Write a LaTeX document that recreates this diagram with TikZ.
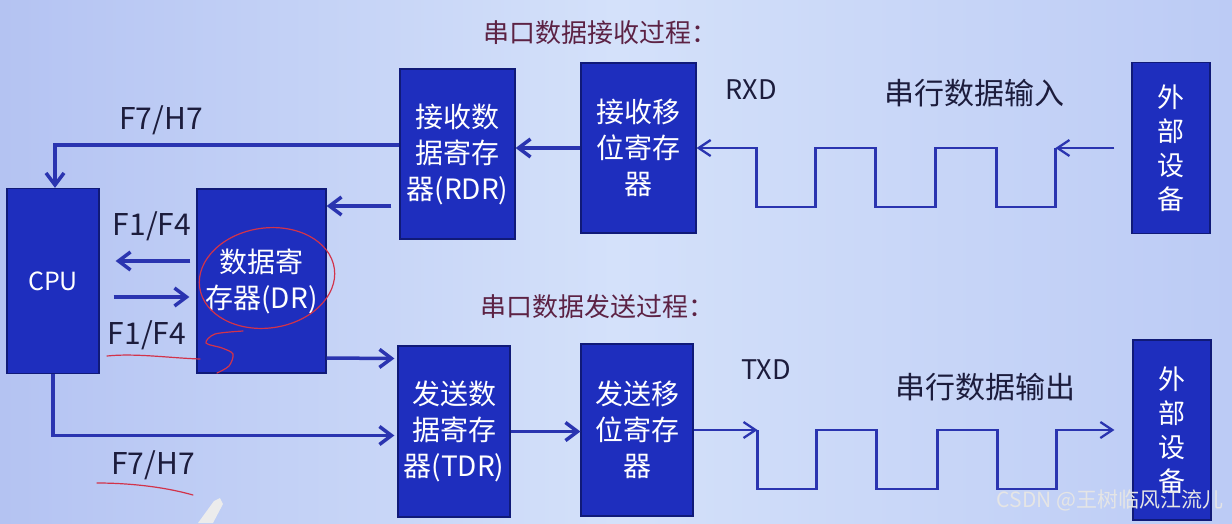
\documentclass[tikz,border=0pt]{standalone}
\usepackage{fontspec}
\setmainfont{Noto Sans CJK SC}
\usetikzlibrary{arrows.meta}
\definecolor{regfill}{HTML}{1E2EBE}
\definecolor{regedge}{HTML}{101A78}
\definecolor{arblue}{HTML}{2A34B0}
\definecolor{lblink}{HTML}{1C1C3C}
\definecolor{ttlink}{HTML}{5C2244}
\definecolor{inkred}{HTML}{D2334A}
\definecolor{bgl}{HTML}{B4C3F2}
\definecolor{bgm}{HTML}{D4E1FA}
\definecolor{bgr}{HTML}{BCCBF5}
\tikzset{
  reg/.style  = {draw=regedge, fill=regfill, line width=1.2pt, text=white,
                 align=center, inner sep=0pt, font=\fontsize{28}{36}\selectfont},
  dev/.style  = {reg, font=\fontsize{27}{34}\selectfont},
  lbl/.style  = {text=lblink, font=\fontsize{30}{34}\selectfont},
  ttl/.style  = {text=ttlink, font=\fontsize{26}{30}\selectfont},
  ar/.style   = {draw=arblue, line width=3.5pt,
                 -{Straight Barb[length=12pt,width=18pt]}},
  sig/.style  = {draw=arblue, line width=2.3pt},
  sigar/.style= {sig, -{Straight Barb[length=12pt,width=16pt]}},
  ink/.style  = {draw=inkred, line width=1.2pt, line cap=round}
}
\begin{document}
\begin{tikzpicture}[x=1pt, y=-1pt]
  \useasboundingbox (0,0) rectangle (1232,523);
  \shade[left color=bgl, right color=bgr, middle color=bgm] (0,0) rectangle (1232,523);

  % titles
  \node[ttl] (rxttl) at (600,33)  {串口数据接收过程：};
  \node[ttl] (txttl) at (597,307) {串口数据发送过程：};

  % registers
  \node[reg, minimum width=92pt,  minimum height=185pt, font=\fontsize{25}{30}\selectfont]
        (cpu) at (53,281) {CPU};
  \node[reg, minimum width=129pt, minimum height=184pt] (dr)  at (261.5,281) {数据寄\\存器(DR)};
  \node[reg, minimum width=115pt, minimum height=170pt] (rdr) at (457.5,154) {接收数\\据寄存\\器(RDR)};
  \node[reg, minimum width=115pt, minimum height=170pt] (rsr) at (638.5,148) {接收移\\位寄存\\器};
  \node[reg, minimum width=112pt, minimum height=171pt] (tdr) at (454,431.5) {发送数\\据寄存\\器(TDR)};
  \node[reg, minimum width=112pt, minimum height=172pt] (tsr) at (637,430)   {发送移\\位寄存\\器};
  \node[dev, minimum width=78pt,  minimum height=171pt] (extin)  at (1171,148) {外\\部\\设\\备};
  \node[dev, minimum width=78pt,  minimum height=180pt] (extout) at (1172,430) {外\\部\\设\\备};

  % labels
  \node[lbl] (f7top) at (161,120) {F7/H7};
  \node[lbl] (f1top) at (152,226) {F1/F4};
  \node[lbl] (f1bot) at (147,335) {F1/F4};
  \node[lbl] (f7bot) at (153,465) {F7/H7};
  \node[lbl, font=\fontsize{27}{32}\selectfont] (rxd) at (751,90)  {RXD};
  \node[lbl, font=\fontsize{27}{32}\selectfont] (txd) at (766,370) {TXD};
  \node[lbl] (serin)  at (974,93)  {串行数据输入};
  \node[lbl] (serout) at (985,387) {串行数据输出};

  % parallel side
  \draw[ar] ([yshift=9pt]rdr.west) -| ([xshift=2pt]cpu.north);
  \draw[ar] ([xshift=-8pt,yshift=-52pt]rdr.west) -- ([yshift=75pt]dr.east);
  \draw[ar] (rsr.west) -- (rsr.west -| rdr.east);
  \draw[ar] ([xshift=-6pt,yshift=20pt]dr.west) -- ([xshift=16pt,yshift=20pt]cpu.east);
  \draw[ar] ([xshift=14pt,yshift=-16pt]cpu.east) -- ([xshift=-7pt,yshift=-16pt]dr.west);
  \draw[ar] ([yshift=-77pt]dr.east) -- ([xshift=-3pt,yshift=73pt]tdr.west);
  \draw[ar] (cpu.south) |- ([xshift=-3pt,yshift=-4pt]tdr.west);
  \draw[ar] (tdr.east) -- (tdr.east -| tsr.west);

  % serial side
  \draw[sigar] ([xshift=-17pt]extin.west) -- ([xshift=-76pt]extin.west);
  \draw[sigar] ([xshift=-76pt]extin.west) -- ++(0,-59pt) -- ++(-59pt,0) -- ++(0,59pt)
     -- ++(-61pt,0) -- ++(0,-59pt) -- ++(-60pt,0) -- ++(0,59pt) -- ++(-60pt,0)
     -- ++(0,-59pt) -- ++(-59pt,0) -- ++(0,59pt) -- (rsr.east);
  \draw[sigar] (tsr.east) -- ([xshift=64pt]tsr.east);
  \draw[sigar] ([xshift=64pt]tsr.east) -- ++(0,-59pt) -- ++(59pt,0) -- ++(0,59pt)
     -- ++(60pt,0) -- ++(0,-59pt) -- ++(61pt,0) -- ++(0,59pt) -- ++(60pt,0)
     -- ++(0,-59pt) -- ++(59pt,0) -- ++(0,59pt) -- ([xshift=-18pt]extout.west);

  % hand marks
  \draw[ink, rotate around={8:(267,278)}] (267,278) ellipse [x radius=68pt, y radius=50pt];
  \draw[ink] (107,356) .. controls (135,353) and (170,358) .. (200,359);
  \draw[ink] plot[smooth] coordinates {(243,331) (215,334) (206,343) (222,348) (233,354) (229,366) (217,373)};
  \draw[ink] (97,483) .. controls (130,483) and (165,487) .. (193,495);
  \fill[white!85!gray] (198,523) -- (214,501) -- (220,498) -- (223,504) -- (213,523) -- cycle;

  % watermark
  \node[text=black!10, font=\fontsize{21}{24}\selectfont] (mark) at (1110,500) {CSDN @王树临风江流儿};
\end{tikzpicture}
\end{document}
